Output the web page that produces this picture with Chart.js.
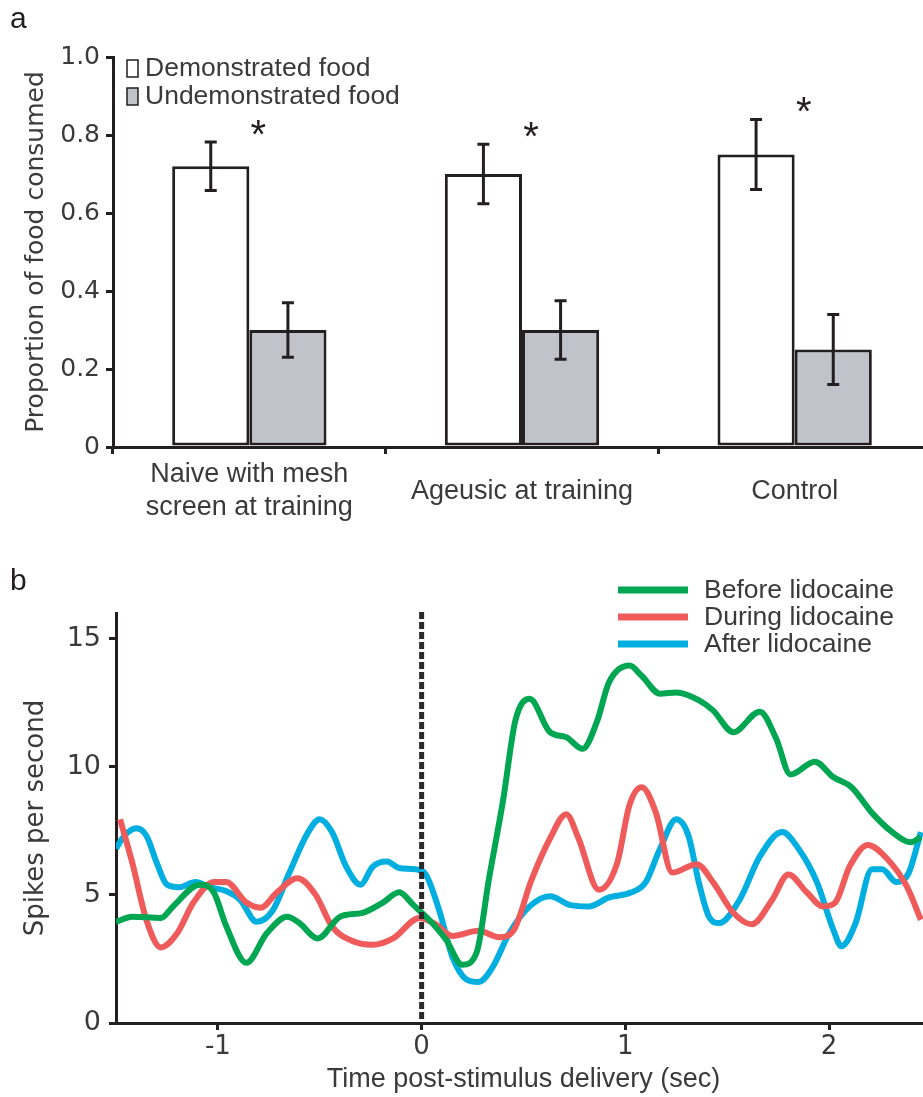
<!DOCTYPE html>
<html>
<head>
<meta charset="utf-8">
<script src="https://cdn.jsdelivr.net/npm/chart.js@4.4.1/dist/chart.umd.min.js"></script>
<style>
  html, body { margin: 0; padding: 0; background: #fff; overflow: hidden; }
  #page { position: relative; width: 923px; height: 1097px; overflow: hidden; }
  .panel { position: absolute; left: 0; width: 931px; }
  #boxA { top: 0; height: 540px; }
  #boxB { top: 540px; height: 557px; }
  .tag { position: absolute; left: 10px; font: 30px/34px "Liberation Sans", Arial, sans-serif; color: #231f20; }
</style>
</head>
<body>
<div id="page">
  <div class="panel" id="boxA"><canvas id="chartA"></canvas></div>
  <div class="panel" id="boxB"><canvas id="chartB"></canvas></div>
  <div class="tag" style="top:1px">a</div>
  <div class="tag" style="top:563px">b</div>
</div>
<script>
// ---- panel a data
const groups = [['Naive with mesh', 'screen at training'], 'Ageusic at training', 'Control'];
const demonstrated = [0.72, 0.70, 0.75];
const demonstratedErr = [0.062, 0.076, 0.09];
const undemonstrated = [0.30, 0.30, 0.25];
const undemonstratedErr = [0.07, 0.075, 0.09];
const propTicks = [0, 0.2, 0.4, 0.6, 0.8, 1.0];

// ---- panel b data
const beforeT = [-1.5, -1.42, -1.28, -1.22, -1.09, -1.02, -0.96, -0.86, -0.76, -0.66, -0.6, -0.51, -0.4, -0.29, -0.19, -0.11, -0.04, 0.04, 0.12, 0.2, 0.27, 0.33, 0.4, 0.46, 0.53, 0.63, 0.71, 0.79, 0.86, 0.92, 1.02, 1.08, 1.17, 1.25, 1.36, 1.43, 1.53, 1.66, 1.74, 1.81, 1.93, 2.02, 2.11, 2.21, 2.31, 2.4, 2.45];
const beforeRate = [3.95, 4.15, 4.1, 4.55, 5.4, 5.1, 3.8, 2.35, 3.5, 4.15, 3.9, 3.3, 4.15, 4.3, 4.7, 5.1, 4.6, 4.0, 3.25, 2.27, 2.75, 5.6, 8.7, 11.8, 12.65, 11.35, 11.15, 10.7, 11.75, 13.3, 13.95, 13.55, 12.85, 12.9, 12.6, 12.2, 11.35, 12.15, 11.1, 9.7, 10.2, 9.6, 9.2, 8.2, 7.45, 7.05, 7.25];

const duringT = [-1.48, -1.42, -1.35, -1.28, -1.2, -1.12, -1.02, -0.96, -0.86, -0.79, -0.71, -0.61, -0.52, -0.44, -0.34, -0.24, -0.14, -0.01, 0.07, 0.15, 0.28, 0.38, 0.45, 0.54, 0.63, 0.71, 0.77, 0.87, 0.96, 1.02, 1.08, 1.15, 1.23, 1.35, 1.43, 1.53, 1.62, 1.72, 1.8, 1.89, 1.97, 2.03, 2.1, 2.19, 2.28, 2.38, 2.45];
const duringRate = [7.95, 6.25, 4.0, 2.95, 3.5, 4.7, 5.5, 5.5, 4.7, 4.5, 5.1, 5.65, 5.0, 3.77, 3.2, 3.05, 3.3, 4.1, 3.85, 3.4, 3.6, 3.35, 3.6, 5.6, 7.2, 8.15, 7.2, 5.2, 6.25, 8.5, 9.2, 8.2, 5.87, 6.2, 5.5, 4.3, 3.85, 4.8, 5.8, 5.1, 4.55, 4.7, 6.1, 6.95, 6.45, 5.35, 4.03];

const afterT = [-1.5, -1.46, -1.4, -1.35, -1.3, -1.25, -1.19, -1.11, -1.04, -0.96, -0.89, -0.81, -0.73, -0.65, -0.56, -0.5, -0.44, -0.37, -0.3, -0.24, -0.17, -0.11, -0.03, 0.02, 0.09, 0.15, 0.22, 0.28, 0.35, 0.43, 0.53, 0.63, 0.73, 0.82, 0.92, 1.03, 1.1, 1.17, 1.25, 1.31, 1.36, 1.41, 1.46, 1.56, 1.66, 1.77, 1.85, 1.94, 2.02, 2.06, 2.13, 2.21, 2.26, 2.33, 2.39, 2.45];
const afterRate = [6.8, 7.3, 7.6, 7.3, 6.25, 5.4, 5.3, 5.5, 5.3, 5.15, 4.8, 3.95, 4.4, 5.85, 7.4, 7.95, 7.45, 6.1, 5.4, 6.1, 6.3, 6.05, 6.0, 5.8, 4.3, 2.6, 1.7, 1.6, 2.2, 3.5, 4.55, 4.95, 4.6, 4.55, 4.9, 5.1, 5.5, 6.8, 7.95, 7.3, 5.5, 4.15, 3.9, 4.8, 6.5, 7.45, 6.8, 5.5, 3.65, 3.0, 3.9, 6.0, 6.0, 5.5, 5.85, 7.45];

const timeTicks = [-1, 0, 1, 2];
const rateTicks = [0, 5, 10, 15];

// ---- look
const ink = '#231f20';
const textCol = '#3a3a3a';
const sans = '"Liberation Sans", Arial, sans-serif';
const verd = '"DejaVu Sans", Verdana, sans-serif';
const green = '#00a651';
const red = '#ef5b5b';
const blue = '#00aee0';

Chart.defaults.animation = false;
Chart.defaults.color = textCol;

function pairs(xs, ys) {
    return xs.map((x, i) => ({ x: x, y: ys[i] }));
}

// error bars + stars + legend for panel a
const errorBars = {
    id: 'errorBars',
    afterDatasetsDraw(chart) {
        const ctx = chart.ctx;
        const y = chart.scales.y;
        const errs = [demonstratedErr, undemonstratedErr];
        ctx.save();
        ctx.strokeStyle = ink;
        ctx.lineWidth = 3;
        errs.forEach((list, di) => {
            chart.getDatasetMeta(di).data.forEach((bar, i) => {
                const v = chart.data.datasets[di].data[i];
                const top = y.getPixelForValue(v + list[i]);
                const bot = y.getPixelForValue(v - list[i]);
                ctx.beginPath();
                ctx.moveTo(bar.x, top); ctx.lineTo(bar.x, bot);
                ctx.moveTo(bar.x - 6, top); ctx.lineTo(bar.x + 6, top);
                ctx.moveTo(bar.x - 6, bot); ctx.lineTo(bar.x + 6, bot);
                ctx.stroke();
            });
        });
        // significance stars
        ctx.fillStyle = ink;
        ctx.font = '40px ' + sans;
        ctx.textAlign = 'center';
        ctx.textBaseline = 'alphabetic';
        chart.getDatasetMeta(0).data.forEach((bar, i) => {
            const top = y.getPixelForValue(demonstrated[i] + demonstratedErr[i]);
            const cx = chart.scales.x.getPixelForValue(i) + 9;
            ctx.fillText('*', cx, top + 6);
        });
        // legend
        const items = [['Demonstrated food', '#ffffff'], ['Undemonstrated food', '#c0c4ca']];
        ctx.font = '26.5px ' + sans;
        ctx.textAlign = 'left';
        ctx.textBaseline = 'middle';
        items.forEach((it, i) => {
            const cy = 68 + i * 28;
            ctx.fillStyle = it[1];
            ctx.fillRect(127, cy - 8, 11, 17);
            ctx.lineWidth = 1.5;
            ctx.strokeStyle = ink;
            ctx.strokeRect(127, cy - 8, 11, 17);
            ctx.fillStyle = textCol;
            ctx.fillText(it[0], 145, cy + 1);
        });
        ctx.restore();
    }
};

new Chart(document.getElementById('chartA'), {
    type: 'bar',
    data: {
        labels: groups,
        datasets: [
            { label: 'Demonstrated food', data: demonstrated, backgroundColor: '#ffffff',
              borderColor: ink, borderWidth: 3, borderSkipped: false },
            { label: 'Undemonstrated food', data: undemonstrated, backgroundColor: '#c0c4ca',
              borderColor: ink, borderWidth: 3, borderSkipped: false }
        ]
    },
    options: {
        responsive: true,
        maintainAspectRatio: false,
        layout: { padding: { top: 57, left: 0, right: 0, bottom: 0 } },
        plugins: { legend: { display: false }, tooltip: { enabled: false } },
        datasets: { bar: { barPercentage: 1, categoryPercentage: 0.566 } },
        scales: {
            x: {
                grid: { display: true, offset: true, drawOnChartArea: false, tickLength: 7, color: ink, lineWidth: 3 },
                border: { display: true, color: ink, width: 3 },
                ticks: { font: { family: sans, size: 27 }, color: textCol, padding: 21, crossAlign: 'center', maxRotation: 0, autoSkip: false },
                afterFit: s => { s.height = 93; }
            },
            y: {
                min: 0,
                max: 1,
                afterBuildTicks: s => { s.ticks = propTicks.map(v => ({ value: v })); },
                grid: { drawOnChartArea: false, tickLength: 7, color: ink, lineWidth: 3 },
                border: { display: true, color: ink, width: 3 },
                ticks: { font: { family: verd, size: 25 }, color: textCol, padding: 6,
                         callback: v => v === 0 ? '0' : v.toFixed(1) },
                title: { display: true, text: 'Proportion of food consumed', color: textCol,
                         font: { family: verd, size: 25 }, padding: { top: 21, bottom: 0 } },
                afterFit: s => { s.width = 113; }
            }
        }
    },
    plugins: [errorBars]
});

// dashed stimulus line + legend for panel b
const stimLine = {
    id: 'stimLine',
    afterDatasetsDraw(chart) {
        const ctx = chart.ctx;
        const area = chart.chartArea;
        const x0 = chart.scales.x.getPixelForValue(0);
        ctx.save();
        ctx.strokeStyle = '#2a2a2a';
        ctx.lineWidth = 5;
        ctx.setLineDash([7, 3]);
        ctx.beginPath();
        ctx.moveTo(x0, area.top - 1);
        ctx.lineTo(x0, area.bottom);
        ctx.stroke();
        ctx.setLineDash([]);
        ctx.font = '26.5px ' + sans;
        ctx.textAlign = 'left';
        ctx.textBaseline = 'middle';
        chart.data.datasets.forEach((ds, i) => {
            const cy = 50 + i * 27;
            ctx.strokeStyle = ds.borderColor;
            ctx.lineWidth = 7;
            ctx.beginPath();
            ctx.moveTo(618, cy);
            ctx.lineTo(688, cy);
            ctx.stroke();
            ctx.fillStyle = textCol;
            ctx.fillText(ds.label, 704, cy + 1);
        });
        ctx.restore();
    }
};

const lineStyle = { borderWidth: 6, pointRadius: 0, cubicInterpolationMode: 'monotone', fill: false };

new Chart(document.getElementById('chartB'), {
    type: 'line',
    data: {
        datasets: [
            Object.assign({ label: 'Before lidocaine', data: pairs(beforeT, beforeRate), borderColor: green }, lineStyle),
            Object.assign({ label: 'During lidocaine', data: pairs(duringT, duringRate), borderColor: red }, lineStyle),
            Object.assign({ label: 'After lidocaine', data: pairs(afterT, afterRate), borderColor: blue }, lineStyle)
        ]
    },
    options: {
        responsive: true,
        maintainAspectRatio: false,
        layout: { padding: { top: 73, left: 0, right: 0, bottom: 0 } },
        plugins: { legend: { display: false }, tooltip: { enabled: false } },
        scales: {
            x: {
                type: 'linear',
                min: -1.5,
                max: 2.5,
                afterBuildTicks: s => { s.ticks = timeTicks.map(v => ({ value: v })); },
                grid: { drawOnChartArea: false, tickLength: 7, color: ink, lineWidth: 3 },
                border: { display: true, color: ink, width: 3 },
                ticks: { font: { family: verd, size: 26 }, color: textCol, padding: 2 },
                title: { display: true, text: 'Time post-stimulus delivery (sec)', color: textCol,
                         font: { family: sans, size: 27 }, padding: { top: 0, bottom: 1 } },
                afterFit: s => { s.height = 74; }
            },
            y: {
                min: 0,
                max: 16,
                afterBuildTicks: s => { s.ticks = rateTicks.map(v => ({ value: v })); },
                grid: { drawOnChartArea: false, tickLength: 7, color: ink, lineWidth: 3 },
                border: { display: true, color: ink, width: 3 },
                ticks: { font: { family: verd, size: 27 }, color: textCol, padding: 8 },
                title: { display: true, text: 'Spikes per second', color: textCol,
                         font: { family: verd, size: 26 }, padding: { top: 21, bottom: 0 } },
                afterFit: s => { s.width = 116; }
            }
        }
    },
    plugins: [stimLine]
});
</script>
</body>
</html>
